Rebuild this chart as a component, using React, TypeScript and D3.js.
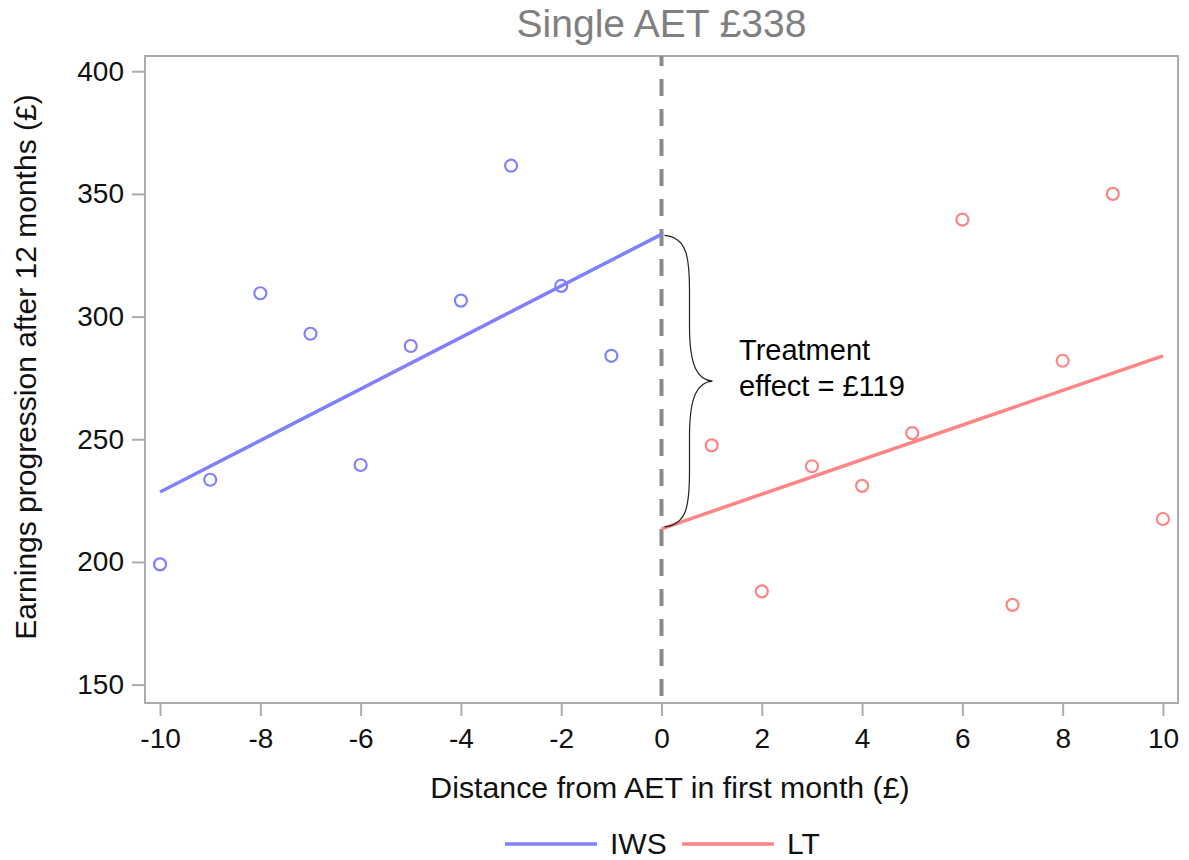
import React, { useEffect, useRef } from 'react'
import * as d3 from 'd3'

// distance from AET (£) and mean earnings progression (£)
const iwsX = [-10, -9, -8, -7, -6, -5, -4, -3, -2, -1]
const iwsY = [199, 233.5, 309.5, 293, 239.5, 288, 306.5, 361.5, 312.5, 284]
const ltX = [1, 2, 3, 4, 5, 6, 7, 8, 9, 10]
const ltY = [247.5, 188, 239, 231, 252.5, 339.5, 182.5, 282, 350, 217.5]

// fitted lines (endpoints)
const iwsFitX = [-10, 0]
const iwsFitY = [228.5, 333.5]
const ltFitX = [0, 10]
const ltFitY = [213.5, 284]

const xTicks = [-10, -8, -6, -4, -2, 0, 2, 4, 6, 8, 10]
const yTicks = [150, 200, 250, 300, 350, 400]
const seriesNames = ['IWS', 'LT']
const seriesColors = ['#8080ff', '#ff8585']

const W = 1189
const H = 860
const FONT = '"Liberation Sans", Arial, Helvetica, sans-serif'

export default function App() {
  const ref = useRef<SVGSVGElement>(null)

  useEffect(() => {
    const svg = d3.select(ref.current)
    svg.selectAll('*').remove()

    const left = 145, right = 1178, top = 56, bottom = 703
    const x = d3.scaleLinear().domain([-10.3, 10.3]).range([left, right])
    const y = d3.scaleLinear().domain([142.5, 406.2]).range([bottom, top])
    const axisColor = '#a9adb1'

    // frame
    svg.append('rect')
      .attr('x', left).attr('y', top)
      .attr('width', right - left).attr('height', bottom - top)
      .attr('fill', 'none').attr('stroke', axisColor).attr('stroke-width', 2)

    // x axis
    const xa = svg.append('g')
      .attr('transform', `translate(0,${bottom})`)
      .call(d3.axisBottom(x).tickValues(xTicks).tickFormat(d => String(d)).tickSize(13).tickSizeOuter(0).tickPadding(12))
    xa.select('.domain').remove()
    xa.selectAll('line').attr('stroke', axisColor).attr('stroke-width', 2)
    xa.selectAll('text').attr('font-family', FONT).attr('font-size', 28).attr('fill', '#111')

    // y axis
    const ya = svg.append('g')
      .attr('transform', `translate(${left},0)`)
      .call(d3.axisLeft(y).tickValues(yTicks).tickSize(13).tickSizeOuter(0).tickPadding(8))
    ya.select('.domain').remove()
    ya.selectAll('line').attr('stroke', axisColor).attr('stroke-width', 2)
    ya.selectAll('text').attr('font-family', FONT).attr('font-size', 28).attr('fill', '#111')

    // cutoff line
    svg.append('line')
      .attr('x1', x(0)).attr('x2', x(0))
      .attr('y1', top).attr('y2', bottom)
      .attr('stroke', '#8a8a8a').attr('stroke-width', 4)
      .attr('stroke-dasharray', '17 13')
      .attr('stroke-dashoffset', 7)

    // fitted lines
    const fits = [
      { xs: iwsFitX, ys: iwsFitY },
      { xs: ltFitX, ys: ltFitY },
    ]
    fits.forEach((f, i) => {
      svg.append('path')
        .datum(f.xs.map((v, j) => [v, f.ys[j]] as [number, number]))
        .attr('d', d3.line<[number, number]>().x(d => x(d[0])).y(d => y(d[1])))
        .attr('fill', 'none').attr('stroke', seriesColors[i]).attr('stroke-width', 3.5)
    })

    // scatter points
    const pts = [
      { xs: iwsX, ys: iwsY },
      { xs: ltX, ys: ltY },
    ]
    pts.forEach((p, i) => {
      svg.append('g').selectAll('circle')
        .data(p.xs.map((v, j) => [v, p.ys[j]]))
        .join('circle')
        .attr('cx', d => x(d[0])).attr('cy', d => y(d[1]))
        .attr('r', 6)
        .attr('fill', 'none').attr('stroke', seriesColors[i]).attr('stroke-width', 2.2)
    })

    // brace for treatment effect
    const bx = x(0) + 3
    const yT = y(iwsFitY[1]) + 1
    const yB = y(ltFitY[0]) - 2
    const yM = (yT + yB) / 2
    const bw = 25, tip = 48
    const brace = d3.path()
    brace.moveTo(bx, yT)
    brace.bezierCurveTo(bx + bw * 0.9, yT + 2, bx + bw, yT + 22, bx + bw, yT + 55)
    brace.lineTo(bx + bw, yM - 55)
    brace.bezierCurveTo(bx + bw, yM - 15, bx + bw + 8, yM - 1, bx + tip, yM)
    brace.bezierCurveTo(bx + bw + 8, yM + 1, bx + bw, yM + 15, bx + bw, yM + 55)
    brace.lineTo(bx + bw, yB - 55)
    brace.bezierCurveTo(bx + bw, yB - 22, bx + bw * 0.9, yB - 2, bx, yB)
    svg.append('path').attr('d', brace.toString())
      .attr('fill', 'none').attr('stroke', '#222').attr('stroke-width', 1.2)

    const ann = svg.append('text')
      .attr('font-family', FONT).attr('font-size', 29).attr('fill', '#000')
    ann.append('tspan').attr('x', 739).attr('y', 360).text('Treatment')
    ann.append('tspan').attr('x', 739).attr('y', 396).text('effect = £119')

    // title
    svg.append('text')
      .attr('x', (left + right) / 2).attr('y', 37)
      .attr('text-anchor', 'middle')
      .attr('font-family', FONT).attr('font-size', 39).attr('fill', '#808080')
      .text('Single AET £338')

    // axis titles
    svg.append('text')
      .attr('x', 670).attr('y', 798)
      .attr('text-anchor', 'middle')
      .attr('font-family', FONT).attr('font-size', 30.3).attr('fill', '#111')
      .text('Distance from AET in first month (£)')

    svg.append('text')
      .attr('transform', `translate(36,${367}) rotate(-90)`)
      .attr('text-anchor', 'middle')
      .attr('font-family', FONT).attr('font-size', 30).attr('fill', '#111')
      .text('Earnings progression after 12 months (£)')

    // legend
    const lg = svg.append('g').attr('transform', 'translate(505,844)')
    const offsets = [0, 177]
    seriesNames.forEach((name, i) => {
      const g = lg.append('g').attr('transform', `translate(${offsets[i]},0)`)
      g.append('line').attr('x1', 0).attr('x2', 92).attr('y1', 0).attr('y2', 0)
        .attr('stroke', seriesColors[i]).attr('stroke-width', 3.5)
      g.append('text').attr('x', 105).attr('y', 10)
        .attr('font-family', FONT).attr('font-size', 30).attr('fill', '#111')
        .text(name)
    })
  }, [])

  return (
    <div style={{ position: 'absolute', left: 0, top: 0 }}>
      <svg ref={ref} width={W} height={H} style={{ display: 'block', background: '#fff' }} />
    </div>
  )
}
